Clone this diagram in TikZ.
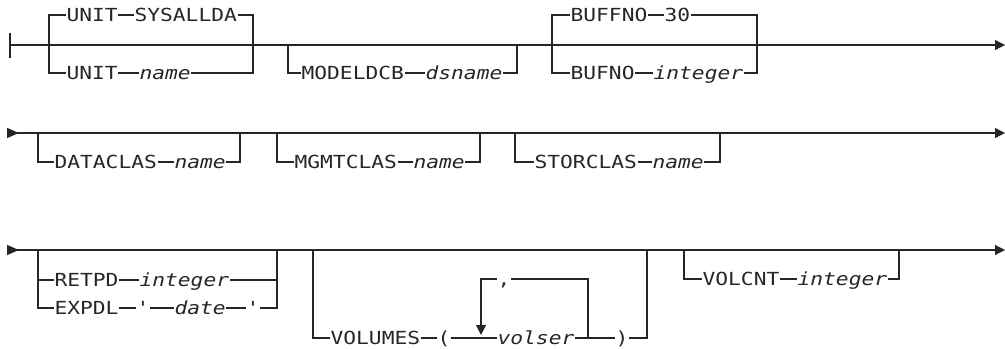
\documentclass[tikz,border=0pt]{standalone}
\usepackage{fontspec}
\setmonofont[FakeStretch=1.18]{DejaVu Sans Mono}
\usepackage{tikz}
\usetikzlibrary{arrows.meta}

\begin{document}
\begin{tikzpicture}[x=0.75pt, y=-0.75pt, line width=0.9pt, color=black!85,
	font=\ttfamily\fontsize{13.5}{16}\selectfont,
	kw/.style={anchor=west, inner sep=0pt, text height=9.8pt, text depth=0pt},
	var/.style={kw, font=\ttfamily\itshape\fontsize{13.5}{16}\selectfont},
	sym/.style={kw, anchor=center},
	-{Triangle[length=7.5pt,width=7.5pt]}]
	\useasboundingbox (0,0) rectangle (1005,349);
	% first line
	\coordinate (s1) at (10,45); \coordinate (e1) at (1005,45);
	\draw[-] (s1) ++(0,-12) -- ++(0,25);
	\draw (s1) -- (e1);
	\coordinate (unitL) at (49,45); \coordinate (unitR) at (253,45);
	\node[kw] (unitA) at (66,15) {UNIT};
	\node[kw] (sysallda) at (134,15) {SYSALLDA};
	\node[kw] (unitB) at (66,73) {UNIT};
	\node[var] (unitname) at (139,73) {name};
	\draw[-] (unitL) |- (unitA) -- (sysallda) -| (unitR);
	\draw[-] (unitL) |- (unitB) -- (unitname) -| (unitR);
	\coordinate (mdlL) at (288,45); \coordinate (mdlR) at (517,45);
	\node[kw] (modeldcb) at (301,73) {MODELDCB};
	\node[var] (dsname) at (425,73) {dsname};
	\draw[-] (mdlL) |- (modeldcb) -- (dsname) -| (mdlR);
	\coordinate (bufL) at (552,45); \coordinate (bufR) at (757,45);
	\node[kw] (buffno) at (570,15) {BUFFNO};
	\node[kw] (thirty) at (664,15) {30};
	\node[kw] (bufno) at (570,73) {BUFNO};
	\node[var] (bufint) at (653,73) {integer};
	\draw[-] (bufL) |- (buffno) -- (thirty) -| (bufR);
	\draw[-] (bufL) |- (bufno) -- (bufint) -| (bufR);
	% second line
	\coordinate (s2) at (7,133); \coordinate (e2) at (1005,133);
	\draw[{Triangle[reversed,length=9pt,width=7.5pt]}-{Triangle[length=7.5pt,width=7.5pt]}] (s2) -- (e2);
	\coordinate (dataL) at (38,133); \coordinate (dataR) at (240,133);
	\node[kw] (dataclas) at (54,162) {DATACLAS};
	\node[var] (dataname) at (174,162) {name};
	\draw[-] (dataL) |- (dataclas) -- (dataname) -| (dataR);
	\coordinate (mgmtL) at (277,133); \coordinate (mgmtR) at (480,133);
	\node[kw] (mgmtclas) at (294,162) {MGMTCLAS};
	\node[var] (mgmtname) at (413,162) {name};
	\draw[-] (mgmtL) |- (mgmtclas) -- (mgmtname) -| (mgmtR);
	\coordinate (storL) at (515,133); \coordinate (storR) at (720,133);
	\node[kw] (storclas) at (534,162) {STORCLAS};
	\node[var] (storname) at (652,162) {name};
	\draw[-] (storL) |- (storclas) -- (storname) -| (storR);
	% third line
	\coordinate (s3) at (7,250); \coordinate (e3) at (1005,250);
	\draw[{Triangle[reversed,length=9pt,width=7.5pt]}-{Triangle[length=7.5pt,width=7.5pt]}] (s3) -- (e3);
	\coordinate (retL) at (38,250); \coordinate (retR) at (277,250);
	\node[kw] (retpd) at (54,280) {RETPD};
	\node[var] (retint) at (139,280) {integer};
	\node[kw] (expdl) at (54,308) {EXPDL};
	\node[sym] (quoteA) at (143,308) {'};
	\node[var] (date) at (174,308) {date};
	\node[sym] (quoteB) at (253,308) {'};
	\draw[-] (retL) |- (retpd) -- (retint) -| (retR);
	\draw[-] (retL) |- (expdl) -- (quoteA) -- (date) -- (quoteB) -| (retR);
	\coordinate (volL) at (313,250); \coordinate (volR) at (647,250);
	\node[kw] (volumes) at (330,338) {VOLUMES};
	\node[sym] (lparen) at (444,338) {(};
	\node[var] (volser) at (497,338) {volser};
	\node[sym] (rparen) at (622,338) {)};
	\draw[-] (volL) |- (volumes) -- (lparen) -- (volser) -- (rparen) -| (volR);
	\coordinate (loopL) at (481,335); \coordinate (loopR) at (588,338);
	\node[sym] (comma) at (504,279) {,};
	\draw (loopR) |- (comma) -| (loopL);
	\coordinate (cntL) at (684,250); \coordinate (cntR) at (899,250);
	\node[kw] (volcnt) at (702,279) {VOLCNT};
	\node[var] (cntint) at (797,279) {integer};
	\draw[-] (cntL) |- (volcnt) -- (cntint) -| (cntR);
\end{tikzpicture}
\end{document}
